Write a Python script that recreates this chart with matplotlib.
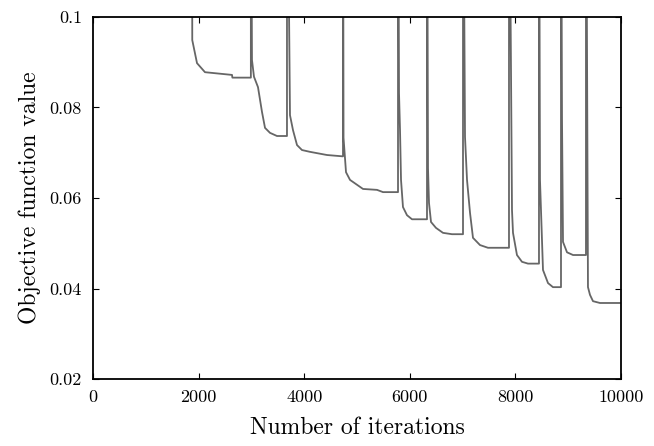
import matplotlib
matplotlib.use("Agg")
import matplotlib.pyplot as plt
from matplotlib.ticker import FuncFormatter

# objective value per iteration (restarts go above 0.1)
iterations = [0, 1870, 1880, 1970, 2121, 2633, 2640, 2990,
              2990, 3011, 3049, 3125, 3201, 3258, 3352, 3485, 3674,
              3674, 3731, 3788, 3864, 3958, 4110, 4432, 4735,
              4735, 4745, 4792, 4868, 5114, 5379, 5493, 5777,
              5777, 5796, 5815, 5834, 5871, 5947, 6042, 6326,
              6326, 6345, 6364, 6402, 6496, 6629, 6800, 7008,
              7008, 7046, 7084, 7141, 7197, 7330, 7481, 7879,
              7879, 7936, 7955, 8030, 8125, 8239, 8447,
              8447, 8466, 8504, 8523, 8618, 8712, 8864,
              8864, 8883, 8902, 8978, 9092, 9337,
              9337, 9375, 9413, 9470, 9602, 10000]
objective = [0.2, 0.2, 0.0949, 0.0898, 0.0878, 0.0872, 0.0866, 0.0866,
             0.15, 0.0905, 0.0868, 0.0845, 0.0790, 0.0755, 0.0744, 0.0737, 0.0737,
             0.15, 0.0783, 0.0750, 0.0717, 0.0706, 0.0702, 0.0695, 0.0692,
             0.15, 0.0733, 0.0657, 0.0640, 0.0620, 0.0618, 0.0613, 0.0613,
             0.15, 0.0832, 0.0750, 0.0640, 0.0580, 0.0562, 0.0553, 0.0553,
             0.15, 0.0666, 0.0589, 0.0547, 0.0534, 0.0523, 0.0520, 0.0520,
             0.15, 0.0735, 0.0640, 0.0567, 0.0512, 0.0496, 0.0490, 0.0490,
             0.15, 0.0573, 0.0523, 0.0474, 0.0459, 0.0455, 0.0455,
             0.15, 0.0640, 0.0507, 0.0441, 0.0412, 0.0403, 0.0403,
             0.15, 0.0777, 0.0503, 0.0480, 0.0474, 0.0474,
             0.15, 0.0403, 0.0386, 0.0372, 0.0368, 0.0368]

x_ticks = [0, 2000, 4000, 6000, 8000, 10000]
y_ticks = [0.02, 0.04, 0.06, 0.08, 0.1]

plt.rcParams["font.family"] = "cmr10"
plt.rcParams["mathtext.fontset"] = "cm"
plt.rcParams["axes.formatter.use_mathtext"] = True

fig = plt.figure(figsize=(6.54, 4.46), dpi=100)
ax = fig.add_axes([0.1422, 0.1502, 0.8073, 0.8117])

ax.plot(iterations, objective, color="#666666", linewidth=1.3)

ax.set_xlim(0, 10000)
ax.set_ylim(0.02, 0.1)
ax.set_xticks(x_ticks)
ax.set_yticks(y_ticks)
ax.yaxis.set_major_formatter(FuncFormatter(lambda v, p: "%g" % v))
ax.xaxis.set_major_formatter(FuncFormatter(lambda v, p: "%d" % v))
ax.tick_params(direction="in", top=True, right=True, length=4, width=0.8,
               labelsize=13, pad=8)
for s in ax.spines.values():
    s.set_linewidth(1.3)

ax.set_xlabel("Number of iterations", fontsize=17, labelpad=8)
ax.set_ylabel("Objective function value", fontsize=17, labelpad=6)

fig.savefig("out.png", dpi=100)
